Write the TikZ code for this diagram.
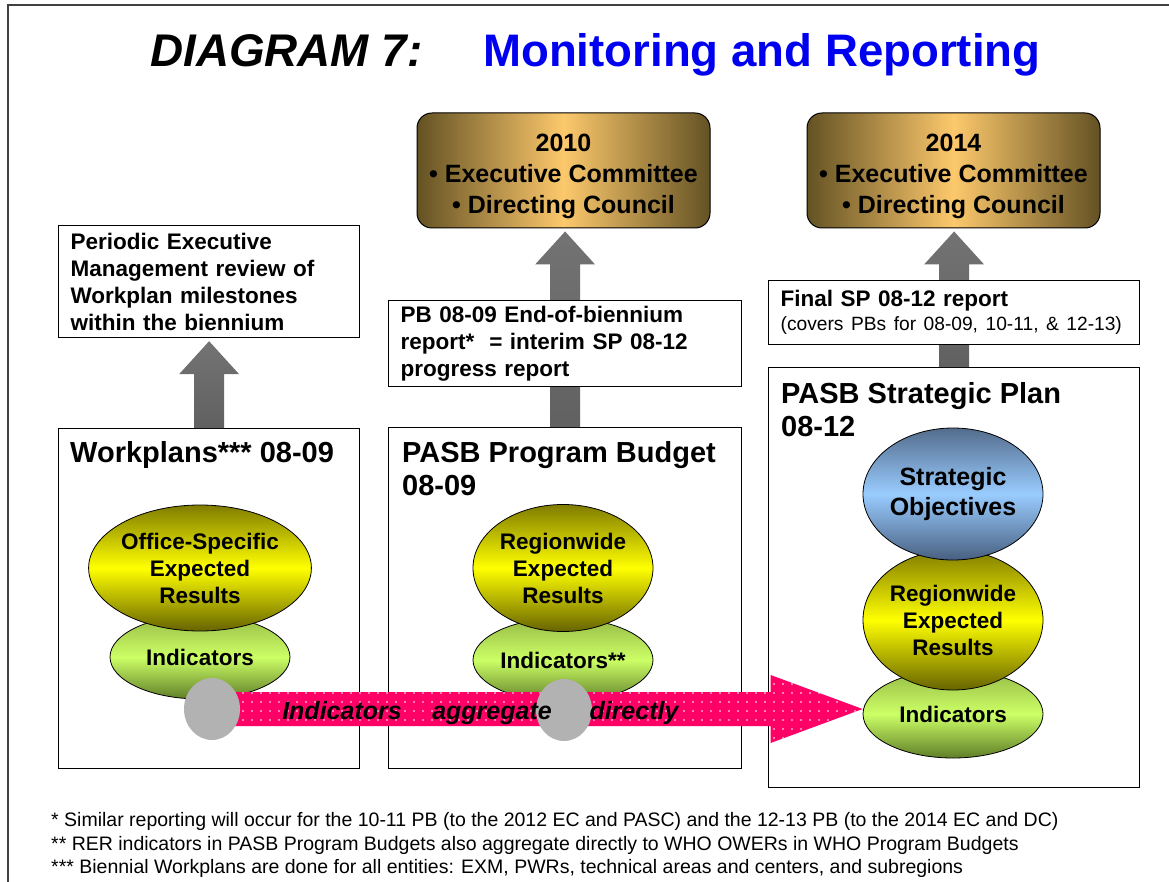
\documentclass[tikz,border=0pt]{standalone}
\usepackage{fontspec}
\setmainfont{Liberation Sans}
\usetikzlibrary{shapes.geometric,calc,patterns.meta,positioning}

\definecolor{goldedge}{RGB}{100,82,36}
\definecolor{goldmid}{RGB}{252,200,108}
\definecolor{ylwedge}{RGB}{128,124,0}
\definecolor{ylwmid}{RGB}{255,255,0}
\definecolor{grntop}{RGB}{150,186,70}
\definecolor{grnmid}{RGB}{204,255,102}
\definecolor{grnbot}{RGB}{96,126,40}
\definecolor{bluetop}{RGB}{84,108,140}
\definecolor{bluemid}{RGB}{153,204,255}
\definecolor{bluebot}{RGB}{72,96,128}
\definecolor{aggpink}{RGB}{255,0,102}
\definecolor{dotgray}{RGB}{178,178,178}
\definecolor{titleblue}{RGB}{0,0,240}

\tikzset{
  box/.style={draw=black, fill=white, line width=1.2pt, anchor=north west, inner sep=0pt},
  report/.style={box, align=left, inner xsep=12pt, font=\bfseries\fontsize{22.5}{27}\selectfont},
  council/.style={draw=black, line width=1pt, rounded corners=15pt, minimum width=293pt, minimum height=115pt,
    left color=goldedge, right color=goldedge, middle color=goldmid, align=center,
    font=\bfseries\fontsize{25}{31}\selectfont},
  heading/.style={anchor=north west, inner sep=0pt, align=left, font=\bfseries\fontsize{29}{33}\selectfont},
  blob/.style={ellipse, draw=black, line width=0.8pt, inner sep=0pt, align=center,
    font=\bfseries\fontsize{22.5}{27}\selectfont},
  results/.style={blob, top color=ylwedge, bottom color=ylwedge!80!black, middle color=ylwmid},
  indic/.style={blob, top color=grntop, bottom color=grnbot, middle color=grnmid},
  objectives/.style={blob, top color=bluetop, bottom color=bluebot, middle color=bluemid,
    font=\bfseries\fontsize{25}{30}\selectfont},
  dot/.style={ellipse, fill=dotgray, inner sep=0pt, minimum width=56pt, minimum height=62pt},
  aggtext/.style={anchor=base, inner sep=0pt, font=\bfseries\itshape\fontsize{25}{25}\selectfont},
  note/.style={anchor=base west, inner sep=0pt, font=\fontsize{19.5}{19.5}\selectfont}
}

% grey block arrow from the top of #1 up to the bottom of #2
\newcommand{\blockup}[2]{%
  \path[top color=black!55, middle color=black!22, bottom color=black!62]
    let \p1=(#1.north), \p2=(#2.south) in
    (\x1-15pt,\y1) -- (\x1-15pt,\y2-36pt) -- (\x1-30pt,\y2-36pt) -- (\x1,\y2-3pt)
    -- (\x1+30pt,\y2-36pt) -- (\x1+15pt,\y2-36pt) -- (\x1+15pt,\y1) -- cycle;}

\begin{document}
\begin{tikzpicture}[x=1pt,y=-1pt]
\clip (0,0) rectangle (1169,882);
\draw[line width=1.8pt, black!75] (8,5) rectangle (1190,900);

\node[anchor=base west, inner sep=0pt, font=\bfseries\itshape\fontsize{45.8}{46}\selectfont] (title-num) at (150,67) {DIAGRAM 7:};
\node[anchor=base west, inner sep=0pt, text=titleblue, font=\bfseries\fontsize{45.6}{46}\selectfont] (title-main) at (483,67) {Monitoring and Reporting};

\node[council] (ec10) at (563.5,170.5) {\rule{0pt}{30pt}2010\\• Executive Committee\\• Directing Council};
\node[council] (ec14) at (953.5,170.5) {\rule{0pt}{30pt}2014\\• Executive Committee\\• Directing Council};

\node[report, text width=277pt, minimum height=112pt] (peri) at (58,225)
  {Periodic Executive\\Management review of\\Workplan milestones\\within the biennium};

\node[box, minimum width=301pt, minimum height=340pt] (wp) at (58,428) {};
\node[box, minimum width=353pt, minimum height=341pt] (pb) at (388,427) {};
\node[box, minimum width=371pt, minimum height=420pt] (sp) at (768,367) {};

\blockup{wp}{peri}
\blockup{pb}{ec10}
\blockup{sp}{ec14}

\node[report, text width=329pt, minimum height=86pt] (pbrep) at (388,300)
  {PB 08-09 End-of-biennium\\report*~ = interim SP 08-12\\progress report};
\node[report, text width=347pt, minimum height=64pt] (sprep) at (768,280)
  {Final SP 08-12 report\\[-3pt]{\mdseries\fontsize{19.2}{22}\selectfont (covers PBs for 08-09, 10-11, \& 12-13)}};

\node[heading] (wp-head) at ([xshift=12pt,yshift=-13pt]wp.north west) {Workplans*** 08-09};
\node[heading] (pb-head) at ([xshift=14pt,yshift=-14pt]pb.north west) {PASB Program Budget\\08-09};
\node[heading] (sp-head) at ([xshift=13pt,yshift=-15pt]sp.north west) {PASB Strategic Plan\\08-12};

% result chains, lower ellipse first
\node[indic, minimum width=180pt, minimum height=84pt] (wp-ind) at (200,657) {Indicators};
\node[results, minimum width=184pt, minimum height=126pt] (wp-er) at (200,568) {Office-Specific\\Expected\\Results};
\node[indic, minimum width=180pt, minimum height=84pt] (pb-ind) at (563,660) {Indicators**};
\node[results, minimum width=180pt, minimum height=127pt] (pb-er) at (563,568) {Regionwide\\Expected\\Results};
\node[indic, minimum width=180pt, minimum height=88pt] (sp-ind) at (953,714) {Indicators};
\node[results, minimum width=180pt, minimum height=140pt] (sp-er) at (953,620) {Regionwide\\Expected\\Results};
\node[objectives, minimum width=180pt, minimum height=132pt] (sp-so) at (953,494) {Strategic\\Objectives};

% aggregation arrow
\coordinate (aggstart) at (212,709);
\path[preaction={fill=aggpink}, pattern={Dots[distance=9pt,radius=0.8pt]}, pattern color=white]
  let \p1=(aggstart), \p2=(sp-ind.west) in
  (\x1,\y1+17pt) -- (\x2-92pt,\y1+17pt) -- (\x2-92pt,\y1+34pt) -- (\x2,\y1)
  -- (\x2-92pt,\y1-34pt) -- (\x2-92pt,\y1-17pt) -- (\x1,\y1-17pt) -- cycle;
\node[dot] (dot1) at (aggstart) {};
\node[dot] (dot2) at (564,710) {};
\node[aggtext] (agg1) at (342,719) {Indicators};
\node[aggtext] (agg2) at (492,719) {aggregate};
\node[aggtext] (agg3) at (634,719) {directly};

\node[note] (fn1) at (51,826) {* Similar reporting will occur for the 10-11 PB (to the 2012 EC and PASC) and the 12-13 PB (to the 2014 EC and DC)};
\node[note] (fn2) at (51,850) {** RER indicators in PASB Program Budgets also aggregate directly to WHO OWERs in WHO Program Budgets};
\node[note] (fn3) at (51,873) {*** Biennial Workplans are done for all entities: EXM, PWRs, technical areas and centers, and subregions};
\end{tikzpicture}
\end{document}
